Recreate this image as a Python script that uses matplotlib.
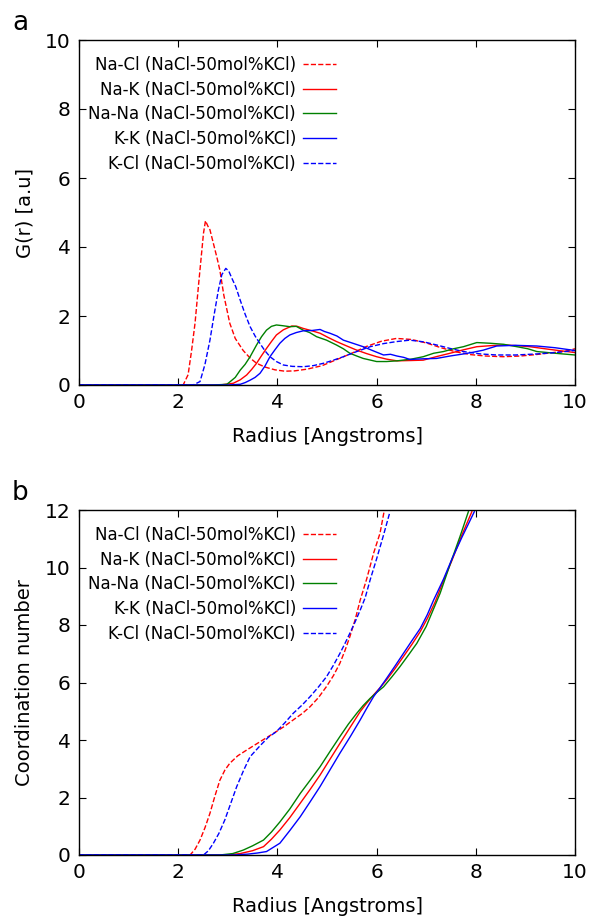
import matplotlib
matplotlib.use("Agg")
import matplotlib.pyplot as plt

plt.rcParams['font.family'] = ['DejaVu Sans']

# ---------------- panel a : radial distribution functions ----------------
r_nacl_g = [0, 2.0, 2.10, 2.20, 2.27, 2.34, 2.41, 2.47, 2.51, 2.55, 2.60, 2.64, 2.71, 2.78, 2.84, 2.92, 3.04, 3.15, 3.31, 3.45, 3.58, 3.75, 3.95, 4.15, 4.35, 4.6, 4.9, 5.2, 5.5, 5.8, 6.1, 6.4, 6.7, 7.0, 7.3, 7.6, 7.9, 8.2, 8.55, 8.9, 9.2, 9.5, 9.8, 10.0]
g_nacl = [0, 0, 0.0, 0.3, 1.0, 1.8, 2.9, 3.8, 4.4, 4.76, 4.6, 4.5, 4.1, 3.7, 3.33, 2.6, 1.79, 1.35, 1.0, 0.78, 0.63, 0.52, 0.44, 0.40, 0.41, 0.46, 0.56, 0.74, 0.92, 1.12, 1.27, 1.35, 1.32, 1.22, 1.08, 0.96, 0.88, 0.84, 0.82, 0.84, 0.88, 0.93, 0.98, 1.05]

r_kcl_g = [0, 2.3, 2.44, 2.54, 2.64, 2.72, 2.81, 2.88, 2.96, 3.02, 3.08, 3.16, 3.25, 3.35, 3.45, 3.55, 3.65, 3.75, 3.85, 3.98, 4.12, 4.3, 4.52, 4.72, 4.93, 5.13, 5.33, 5.6, 5.87, 6.14, 6.41, 6.67, 6.95, 7.21, 7.48, 7.75, 8.1, 8.42, 8.8, 9.23, 9.6, 10.0]
g_kcl = [0, 0, 0.1, 0.6, 1.3, 2.0, 2.75, 3.2, 3.38, 3.3, 3.1, 2.85, 2.46, 2.05, 1.69, 1.42, 1.2, 0.99, 0.82, 0.68, 0.58, 0.54, 0.53, 0.56, 0.63, 0.72, 0.82, 0.97, 1.11, 1.2, 1.26, 1.3, 1.25, 1.16, 1.06, 0.97, 0.9, 0.87, 0.87, 0.9, 0.94, 1.0]

r_nana_g = [0, 2.71, 2.98, 3.05, 3.15, 3.25, 3.35, 3.45, 3.58, 3.68, 3.78, 3.88, 3.98, 4.1, 4.25, 4.38, 4.52, 4.65, 4.79, 4.99, 5.19, 5.33, 5.46, 5.6, 5.73, 6.0, 6.2, 6.41, 6.7, 6.94, 7.15, 7.35, 7.55, 7.75, 8.02, 8.29, 8.56, 8.83, 9.05, 9.23, 9.6, 10.0]
g_nana = [0, 0, 0.02, 0.1, 0.22, 0.43, 0.6, 0.82, 1.16, 1.4, 1.59, 1.7, 1.74, 1.72, 1.69, 1.7, 1.59, 1.52, 1.4, 1.3, 1.16, 1.05, 0.92, 0.84, 0.77, 0.68, 0.68, 0.7, 0.75, 0.82, 0.92, 0.97, 1.05, 1.11, 1.23, 1.21, 1.18, 1.11, 1.05, 0.97, 0.92, 0.87]

r_nak_g = [0, 2.84, 3.11, 3.25, 3.38, 3.48, 3.58, 3.68, 3.78, 3.88, 3.98, 4.12, 4.29, 4.4, 4.52, 4.7, 4.86, 5.02, 5.19, 5.4, 5.6, 5.8, 6.0, 6.2, 6.41, 6.7, 6.94, 7.2, 7.48, 7.75, 8.02, 8.3, 8.56, 8.83, 9.09, 9.5, 10.0]
g_nak = [0, 0, 0.05, 0.15, 0.29, 0.45, 0.63, 0.85, 1.06, 1.26, 1.45, 1.6, 1.71, 1.7, 1.64, 1.57, 1.5, 1.38, 1.26, 1.13, 1.01, 0.91, 0.82, 0.75, 0.7, 0.71, 0.72, 0.82, 0.92, 1.02, 1.11, 1.14, 1.16, 1.14, 1.11, 1.03, 0.94]

r_kk_g = [0, 3.0, 3.25, 3.35, 3.45, 3.55, 3.65, 3.75, 3.85, 3.95, 4.05, 4.15, 4.25, 4.38, 4.52, 4.7, 4.86, 4.95, 5.06, 5.2, 5.33, 5.5, 5.73, 5.95, 6.14, 6.28, 6.41, 6.55, 6.67, 6.95, 7.21, 7.48, 7.75, 7.95, 8.15, 8.42, 8.8, 9.23, 9.6, 10.0]
g_kk = [0, 0, 0.02, 0.07, 0.14, 0.22, 0.34, 0.55, 0.82, 1.02, 1.21, 1.35, 1.45, 1.52, 1.57, 1.58, 1.61, 1.55, 1.5, 1.42, 1.3, 1.22, 1.11, 0.98, 0.87, 0.89, 0.84, 0.8, 0.74, 0.76, 0.77, 0.84, 0.9, 0.95, 1.01, 1.13, 1.15, 1.13, 1.08, 1.0]

# ---------------- panel b : coordination numbers ----------------
r_nacl_c = [0, 2.24, 2.34, 2.44, 2.54, 2.64, 2.74, 2.84, 2.94, 3.04, 3.2, 3.38, 3.65, 3.92, 4.12, 4.32, 4.5, 4.66, 4.83, 4.99, 5.13, 5.26, 5.36, 5.46, 5.57, 5.67, 5.8, 5.94, 6.07, 6.15]
c_nacl = [0, 0, 0.2, 0.52, 0.95, 1.45, 2.05, 2.6, 2.95, 3.19, 3.45, 3.65, 3.94, 4.23, 4.45, 4.7, 4.92, 5.16, 5.48, 5.86, 6.24, 6.67, 7.1, 7.59, 8.2, 8.87, 9.6, 10.5, 11.2, 11.94]

r_kcl_c = [0, 2.51, 2.61, 2.71, 2.82, 2.94, 3.06, 3.18, 3.32, 3.45, 3.65, 3.82, 3.98, 4.15, 4.32, 4.5, 4.66, 4.83, 4.99, 5.13, 5.26, 5.36, 5.46, 5.57, 5.67, 5.77, 5.87, 6.0, 6.13, 6.27]
c_kcl = [0, 0, 0.15, 0.41, 0.75, 1.22, 1.8, 2.38, 2.95, 3.42, 3.8, 4.1, 4.29, 4.6, 4.93, 5.22, 5.51, 5.85, 6.2, 6.6, 7.01, 7.35, 7.71, 8.12, 8.52, 8.95, 9.57, 10.3, 11.07, 11.94]

r_nana_c = [0, 2.84, 3.1, 3.31, 3.5, 3.72, 3.88, 4.05, 4.25, 4.46, 4.66, 4.86, 5.06, 5.26, 5.43, 5.6, 5.73, 5.87, 6.0, 6.14, 6.3, 6.47, 6.64, 6.81, 7.0, 7.28, 7.5, 7.68, 7.85]
c_nana = [0, 0, 0.05, 0.17, 0.32, 0.52, 0.8, 1.15, 1.6, 2.14, 2.6, 3.07, 3.6, 4.12, 4.55, 4.93, 5.2, 5.45, 5.65, 5.85, 6.18, 6.55, 6.95, 7.36, 7.95, 9.1, 10.2, 11.07, 11.94]

r_nak_c = [0, 2.98, 3.25, 3.5, 3.72, 3.88, 4.05, 4.25, 4.46, 4.66, 4.86, 5.06, 5.26, 5.47, 5.67, 5.8, 5.94, 6.07, 6.2, 6.37, 6.54, 6.71, 6.88, 7.03, 7.18, 7.35, 7.52, 7.7, 7.92]
c_nak = [0, 0, 0.05, 0.15, 0.29, 0.55, 0.87, 1.3, 1.8, 2.28, 2.78, 3.33, 3.88, 4.45, 4.99, 5.28, 5.57, 5.82, 6.09, 6.48, 6.9, 7.32, 7.77, 8.25, 8.8, 9.55, 10.25, 11.05, 11.94]

r_kk_c = [0, 3.11, 3.4, 3.6, 3.78, 3.92, 4.05, 4.25, 4.46, 4.66, 4.86, 5.06, 5.26, 5.47, 5.67, 5.8, 5.94, 6.07, 6.2, 6.37, 6.54, 6.71, 6.88, 7.02, 7.15, 7.35, 7.52, 7.72, 7.97]
c_kk = [0, 0, 0.03, 0.07, 0.12, 0.27, 0.41, 0.85, 1.33, 1.85, 2.38, 2.96, 3.54, 4.12, 4.7, 5.1, 5.51, 5.82, 6.14, 6.57, 7.01, 7.45, 7.88, 8.35, 8.87, 9.6, 10.3, 11.05, 11.94]

labels = ["Na-Cl (NaCl-50mol%KCl)", "Na-K (NaCl-50mol%KCl)", "Na-Na (NaCl-50mol%KCl)",
          "K-K (NaCl-50mol%KCl)", "K-Cl (NaCl-50mol%KCl)"]
colors = ["#ff0000", "#ff0000", "#008000", "#0000ff", "#0000ff"]
styles = ["--", "-", "-", "-", "--"]

g_series = [(r_nacl_g, g_nacl), (r_nak_g, g_nak), (r_nana_g, g_nana), (r_kk_g, g_kk), (r_kcl_g, g_kcl)]
c_series = [(r_nacl_c, c_nacl), (r_nak_c, c_nak), (r_nana_c, c_nana), (r_kk_c, c_kk), (r_kcl_c, c_kcl)]

fig = plt.figure(figsize=(5.89, 9.18), dpi=100)
W, H = 589, 918
ax1 = fig.add_axes([79 / W, 1 - 385 / H, 496 / W, 345 / H])
ax2 = fig.add_axes([79 / W, 1 - 855 / H, 496 / W, 345 / H])


def style_axes(ax, ylim, yticks, ylabel):
    ax.set_xlim(0, 10)
    ax.set_ylim(*ylim)
    ax.set_xticks([0, 2, 4, 6, 8, 10])
    ax.set_yticks(yticks)
    ax.tick_params(direction='in', top=True, right=True, length=5, width=0.8,
                   labelsize=14.5, pad=6)
    for s in ax.spines.values():
        s.set_linewidth(1.0)
    ax.set_xlabel("Radius [Angstroms]", fontsize=14)
    ax.set_ylabel(ylabel, fontsize=14)
    ax.xaxis.set_label_coords(0.5, -0.122)
    ax.yaxis.set_label_coords(-0.09, 0.5)


for (x, y), lab, c, ls in zip(g_series, labels, colors, styles):
    ax1.plot(x, y, color=c, linestyle=ls, linewidth=1.0, label=lab)
for (x, y), lab, c, ls in zip(c_series, labels, colors, styles):
    ax2.plot(x, y, color=c, linestyle=ls, linewidth=1.0, label=lab)

style_axes(ax1, (0, 10), [0, 2, 4, 6, 8, 10], "G(r) [a.u]")
style_axes(ax2, (0, 12), [0, 2, 4, 6, 8, 10, 12], "Coordination number")

for ax in (ax1, ax2):
    ax.legend(loc='upper right', bbox_to_anchor=(0.518, 0.954), frameon=False,
              markerfirst=False, fontsize=12, borderpad=0, borderaxespad=0,
              labelspacing=0.40, handlelength=2.0, handletextpad=0.4)

fig.text(12 / W, 1 - 30 / H, "a", fontsize=19)
fig.text(12 / W, 1 - 500 / H, "b", fontsize=19)

fig.savefig("out.png", dpi=100)
